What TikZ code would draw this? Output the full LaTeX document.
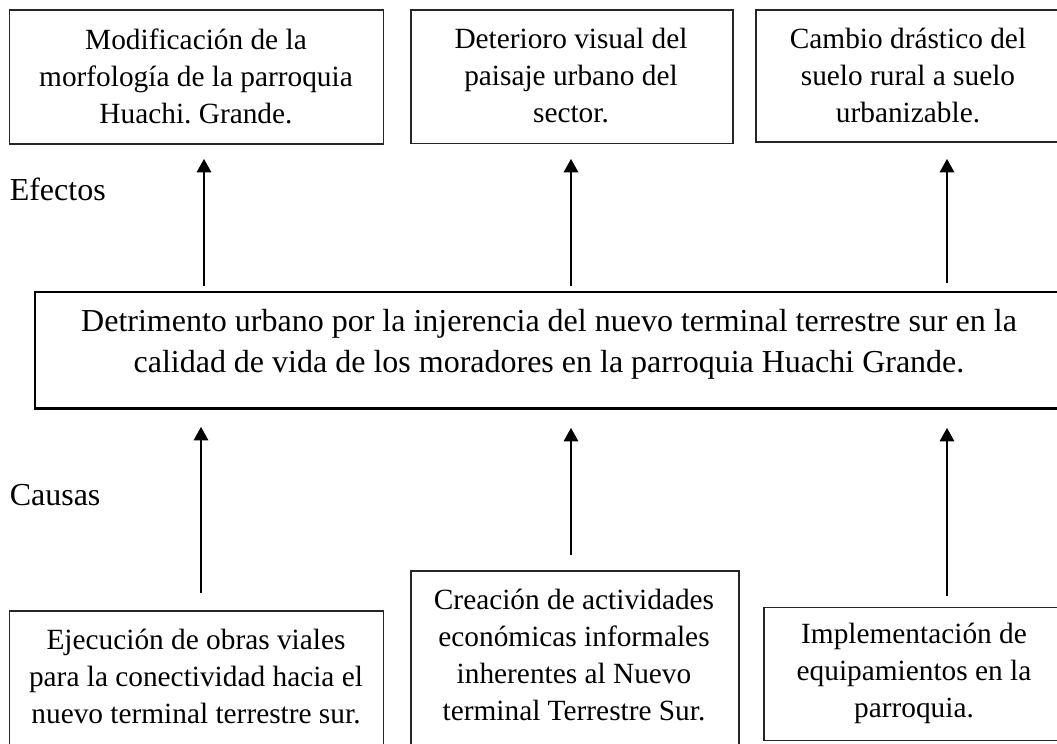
\documentclass[tikz,border=0pt]{standalone}
\usepackage{fontspec}
\setmainfont{Liberation Serif}
\frenchspacing
\usetikzlibrary{arrows.meta}
\tikzset{
  box/.style={draw=black!85, line width=0.8pt, inner sep=0pt, outer sep=0pt, anchor=north west},
  bigbox/.style={draw, line width=1.7pt, inner sep=0pt, outer sep=0pt, anchor=north west},
  txt/.style={align=center, font=\fontsize{22}{27.75}\selectfont, inner sep=0pt},
  bigtxt/.style={align=center, font=\fontsize{24}{31}\selectfont, inner sep=0pt},
  lbl/.style={font=\fontsize{24}{30}\selectfont, inner sep=0pt, anchor=west},
  arr/.style={line width=0.8pt, -{Triangle[length=10pt,width=11pt]}},
}
\begin{document}
\begin{tikzpicture}[x=0.75pt,y=-0.75pt]
\clip (0,0) rectangle (1057,743);
\fill[white] (0,0) rectangle (1057,743);
% top boxes (effects)
\node[box, minimum width=280.5pt, minimum height=100.5pt] (e1) at (9.5,10) {};
\node[box, minimum width=241.5pt, minimum height=100.1pt] (e2) at (411,10) {};
\node[box, minimum width=235.5pt, minimum height=99pt] (e3) at (756,10) {};
\node[txt] (te1) at (196,76) {Modificación de la\\morfología de la parroquia\\Huachi. Grande.};
\node[txt] (te2) at (571,76) {Deterioro visual del\\paisaje urbano del\\sector.};
\node[txt] (te3) at (908,76) {Cambio drástico del\\suelo rural a suelo\\urbanizable.};
% central problem
\node[bigbox, minimum width=776pt, minimum height=87.4pt] (p) at (35,292) {};
\node[bigtxt] (tp) at (549,344.3) {Detrimento urbano por la injerencia del nuevo terminal terrestre sur en la\\calidad de vida de los moradores en la parroquia Huachi Grande.};
% bottom boxes (causes)
\node[box, minimum width=280.5pt, minimum height=111.75pt] (c1) at (9.5,611) {};
\node[box, minimum width=246pt, minimum height=141.75pt] (c2) at (411,571) {};
\node[box, minimum width=229.5pt, minimum height=99.4pt] (c3) at (764,607.5) {};
\node[txt] (tc1) at (196,676) {Ejecución de obras viales\\para la conectividad hacia el\\nuevo terminal terrestre sur.};
\node[txt] (tc2) at (574,655) {Creación de actividades\\económicas informales\\inherentes al Nuevo\\terminal Terrestre Sur.};
\node[txt] (tc3) at (914,673) {Implementación de\\equipamientos en la\\parroquia.};
% labels
\node[lbl] (ef) at (9.5,189) {Efectos};
\node[lbl] (ca) at (9.5,495) {Causas};
% arrow end coordinates
\coordinate (a1s) at (204,286); \coordinate (a1e) at (204,159);
\coordinate (a2s) at (571,286); \coordinate (a2e) at (571,159);
\coordinate (a3s) at (947,283); \coordinate (a3e) at (947,159);
\coordinate (b1s) at (201,593); \coordinate (b1e) at (201,427);
\coordinate (b2s) at (571,555); \coordinate (b2e) at (571,428);
\coordinate (b3s) at (947,596); \coordinate (b3e) at (947,428);
\draw[arr] (a1s) -- (a1e);
\draw[arr] (a2s) -- (a2e);
\draw[arr] (a3s) -- (a3e);
\draw[arr] (b1s) -- (b1e);
\draw[arr] (b2s) -- (b2e);
\draw[arr] (b3s) -- (b3e);
\end{tikzpicture}
\end{document}
